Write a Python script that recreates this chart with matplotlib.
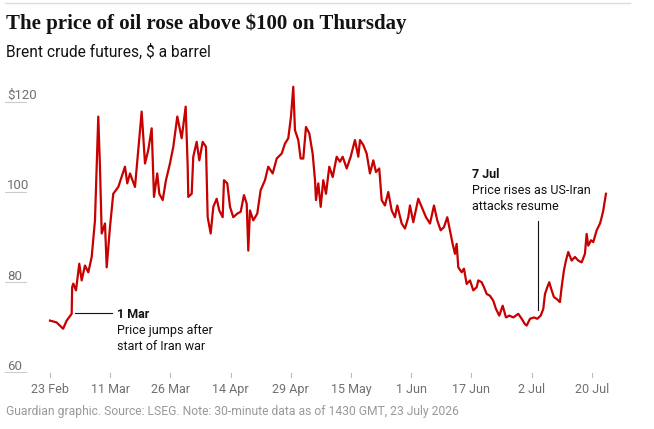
import numpy as np
import matplotlib.pyplot as plt
import matplotlib.transforms as mtransforms
from matplotlib.lines import Line2D

# Datos: dia de mercado desde 23 Feb y precio del Brent ($)
dias = [0.0, 1.2, 2.4, 3.05, 3.96, 4.05, 4.26, 4.75, 5.35, 5.79, 6.39, 7.0, 7.62, 8.22,
        8.82, 9.13, 9.45, 10.05, 10.36, 10.96, 11.56, 12.48, 13.7, 14.12, 14.62, 15.53,
        16.13, 16.75, 17.36, 17.96, 18.58, 19.0, 19.6, 19.97, 20.59, 21.19, 21.92, 22.53,
        23.26, 24.06, 24.79, 25.16, 25.27, 25.89, 26.18, 26.8, 27.28, 27.9, 28.5, 28.81,
        29.36, 29.84, 30.46, 30.93, 31.55, 31.79, 32.39, 32.89, 33.49, 34.22, 34.84, 35.44,
        35.94, 36.23, 36.54, 37.14, 37.87, 38.49, 39.28, 39.88, 40.69, 41.42, 42.33, 42.93,
        43.54, 44.03, 44.45, 44.76, 45.36, 45.8, 46.28, 46.77, 47.37, 47.99, 48.42, 48.6,
        49.02, 49.46, 49.93, 50.43, 51.03, 51.65, 52.38, 52.98, 53.48, 54.21, 54.94, 55.72,
        56.33, 56.64, 57.24, 57.86, 58.46, 59.07, 59.56, 60.16, 60.6, 61.2, 61.81, 62.43,
        63.03, 63.45, 64.26, 64.86, 65.46, 65.77, 66.38, 67.29, 67.91, 68.7, 69.43, 70.16,
        70.76, 71.38, 71.98, 72.59, 73.08, 73.57, 73.99, 74.3, 74.6, 75.22, 75.64, 76.13,
        76.74, 77.34, 77.96, 78.25, 78.87, 79.29, 79.79, 80.39, 80.99, 81.48, 82.09, 82.71,
        83.31, 83.92, 84.65, 85.56, 86.18, 86.78, 87.09, 87.7, 88.43, 89.03, 89.65, 90.13,
        90.44, 90.86, 91.22, 91.66, 92.08, 92.57, 93.17, 93.48, 93.9, 94.27, 94.69, 95.31,
        95.91, 96.52, 97.14, 97.74, 98.05, 98.35, 98.84, 99.26, 99.88, 100.49, 100.8,
        101.09, 101.58]
precio = [71.5, 71.1, 69.7, 71.5, 73.0, 78.9, 79.7, 78.2, 84.1, 80.4, 83.7, 82.2, 85.6, 93.7,
          116.7, 105.6, 90.8, 93.0, 83.3, 92.2, 99.6, 101.1, 105.6, 101.9, 104.1, 101.1,
          109.3, 117.8, 106.3, 109.3, 114.1, 98.9, 104.1, 99.6, 98.2, 102.6, 106.3, 110.0,
          116.7, 111.9, 118.9, 105.6, 98.9, 99.6, 107.8, 111.1, 107.0, 111.1, 110.0, 94.4,
          90.8, 96.7, 98.5, 95.9, 94.4, 102.6, 101.9, 96.7, 94.4, 95.2, 95.6, 99.3,
          97.4, 87.0, 95.9, 93.7, 95.2, 100.4, 102.6, 105.6, 104.1, 107.4, 108.5, 110.7,
          111.9, 116.7, 123.3, 113.7, 111.5, 107.4, 107.4, 114.4, 113.0, 108.5, 102.6, 98.2,
          101.9, 96.7, 102.6, 99.6, 105.6, 103.3, 107.8, 106.7, 107.8, 105.2, 107.8, 111.5,
          107.8, 111.5, 110.4, 108.5, 104.1, 107.0, 104.4, 105.2, 98.2, 97.0, 100.0, 95.9,
          94.4, 97.0, 93.0, 91.9, 94.4, 97.0, 93.3, 98.5, 96.7, 94.4, 93.0, 97.0,
          93.7, 91.5, 92.2, 94.4, 91.5, 88.5, 86.3, 88.5, 83.3, 82.2, 83.0, 79.6,
          80.4, 78.2, 78.9, 80.4, 80.0, 78.9, 77.4, 77.0, 75.9, 74.1, 72.6, 74.8,
          72.2, 72.6, 72.2, 73.0, 71.9, 70.7, 70.4, 71.9, 72.2, 71.9, 72.6, 74.1,
          77.4, 78.9, 80.0, 78.2, 76.7, 76.3, 75.6, 78.9, 82.6, 84.8, 86.7, 84.8,
          85.6, 84.8, 84.4, 86.3, 90.7, 88.1, 89.3, 88.9, 91.5, 93.0, 94.4,
          95.9, 99.6]

# Etiquetas del eje x (cada 11 dias de mercado)
pos_fechas = [0, 11, 22, 33, 44, 55, 66, 77, 88, 99]
fechas = ["23 Feb", "11 Mar", "26 Mar", "14 Apr", "29 Apr", "15 May", "1 Jun", "17 Jun", "2 Jul", "20 Jul"]
valores_y = [60, 80, 100, 120]
etiquetas_y = ["60", "80", "100", "$120"]

rojo = "#c70000"
gris = "#707070"
sans = ["Roboto", "DejaVu Sans"]

fig = plt.figure(figsize=(6.54, 4.29), dpi=100)
ax = fig.add_axes([5 / 654, 1 - 372.5 / 429, 635 / 654, (372.5 - 80) / 429])
ax.set_xlim(-8.22, 107.8)
ax.set_ylim(60, 124.8)
ax.axis("off")

# lineas cortas de la cuadricula bajo las etiquetas
for v, lab in zip(valores_y, etiquetas_y):
    ax.axhline(v, xmin=0, xmax=21 / 635, color="#cccccc", lw=0.8)
    ax.text(2 / 635, v + 0.55, lab, transform=mtransforms.blended_transform_factory(ax.transAxes, ax.transData),
            ha="left", va="baseline", fontsize=9.5, color=gris, family=sans)

# marcas y etiquetas del eje x
for p, f in zip(pos_fechas, fechas):
    ax.plot([p, p], [59.9, 59.0], color="#bbbbbb", lw=0.8, clip_on=False)
    ax.text(p, 56.3, f, ha="center", va="center", fontsize=9, color=gris, family=sans)

ax.plot(dias, precio, color=rojo, lw=1.6, solid_joinstyle="round")

# anotaciones
ax.plot([4.57, 11.33], [73.1, 73.1], color="#121212", lw=0.8)
ax.text(12.24, 72.95, "1 Mar", fontsize=9, fontweight="bold", color="#121212", va="center", family=sans)
ax.text(12.24, 67.5, "Price jumps after\nstart of Iran war", fontsize=9, color="#121212",
        va="center", linespacing=1.3, family=sans)
ax.plot([89.2, 89.2], [93.56, 73.8], color="#121212", lw=0.8)
ax.text(77.05, 103.9, "7 Jul", fontsize=9, fontweight="bold", color="#121212", va="center", family=sans)
ax.text(77.05, 98.5, "Price rises as US-Iran\nattacks resume", fontsize=9, color="#121212",
        va="center", linespacing=1.3, family=sans)

# titulo, subtitulo y pie
fig.add_artist(Line2D([5 / 654, 630 / 654], [1 - 3 / 429, 1 - 3 / 429], color="#dcdcdc", lw=1))
fig.text(6 / 654, 1 - 29.3 / 429, "The price of oil rose above $100 on Thursday", fontsize=15,
         fontweight="bold", family=["Liberation Serif", "DejaVu Serif"], color="#121212", va="baseline")
fig.text(6 / 654, 1 - 56.7 / 429, "Brent crude futures, $ a barrel", fontsize=11.2,
         family=sans, color="#121212", va="baseline")
fig.text(6 / 654, 1 - 412 / 429, "Guardian graphic. Source: LSEG. Note: 30-minute data as of 1430 GMT, 23 July 2026",
         fontsize=8.7, family=sans, color="#999999", va="center")

fig.savefig("out.png", dpi=100)
